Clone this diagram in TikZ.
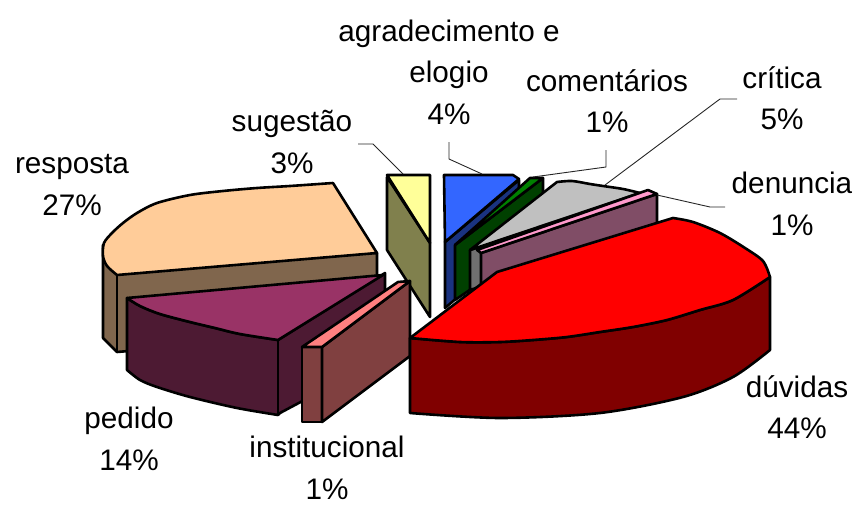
\documentclass[tikz,border=0pt]{standalone}
\usepackage{fontspec}
\setmainfont{Liberation Sans}
\definecolor{peach}{HTML}{FFCC99}
\definecolor{peachD}{HTML}{80664D}
\definecolor{plum}{HTML}{993366}
\definecolor{plumD}{HTML}{4D1A33}
\definecolor{coral}{HTML}{FF8080}
\definecolor{coralD}{HTML}{804040}
\definecolor{lemon}{HTML}{FFFF99}
\definecolor{lemonD}{HTML}{80804D}
\definecolor{azure}{HTML}{3366FF}
\definecolor{azureD}{HTML}{1A3380}
\definecolor{leaf}{HTML}{008000}
\definecolor{leafD}{HTML}{004000}
\definecolor{silver}{HTML}{C0C0C0}
\definecolor{silverD}{HTML}{707070}
\definecolor{rose}{HTML}{FF99CC}
\definecolor{roseD}{HTML}{804D66}
\definecolor{scarlet}{HTML}{FF0000}
\definecolor{scarletD}{HTML}{800000}
\begin{document}
\begin{tikzpicture}[x=1pt,y=-1pt,
  face/.style={draw=black,line width=2.6pt,line join=round},
  lbl/.style={align=center,inner sep=0pt,font=\fontsize{29.7}{41.5}\selectfont},
  leader/.style={draw=black!85,line width=0.9pt}]
\useasboundingbox (0,0) rectangle (855,506);

% resposta
\draw[face,fill=peachD] (103,245) -- (103,338) -- (117,352) -- (377,330) -- (377,253) -- cycle;
\draw[face,fill=peach] plot[smooth] coordinates {(117,275) (107,266) (103,256) (104,243) (112,233) (123,223) (137,213) (157,203) (190,195) (223,191) (257,188) (290,186) (333,183)} -- (377,253) -- cycle;
\draw[face] (117,275) -- (117,352);

% sugestao
\draw[face,fill=lemonD] (387,177) -- (430,243) -- (430,317) -- (387,250) -- cycle;
\draw[face,fill=lemon] (387,175) -- (430,175) -- (430,243) -- cycle;

% agradecimento e elogio
\draw[face,fill=azureD] (445,242) -- (519,180) -- (519,245) -- (445,308) -- cycle;
\draw[face,fill=azure] (444,175) -- (513,175) -- (519,179) -- (445,242) -- cycle;

% comentarios
\draw[face,fill=leafD] (455,245) -- (543,178) -- (543,240) -- (455,300) -- cycle;
\draw[face,fill=leaf] (455,245) -- (530,178) -- (543,178) -- cycle;

% critica
\draw[face,fill=silverD] (470,250) -- (640,193) -- (640,235) -- (470,290) -- cycle;
\draw[face,fill=silver] (470,250) -- (557,182) -- plot[smooth] coordinates {(557,182) (572,181) (590,184) (603,186) (623,189) (640,193)} -- cycle;

% denuncia
\draw[face,fill=roseD] (481,253) -- (657,194) -- (657,262) -- (481,300) -- cycle;
\draw[face,fill=rose] (477,250) -- (648,190) -- (657,194) -- (481,253) -- cycle;

% pedido
\draw[face,fill=plumD] plot[smooth] coordinates {(127,298) (140,306) (160,314) (190,322) (215,328) (240,334) (278,340)} -- (385,273) -- (385,357) -- (280,413) -- plot[smooth] coordinates {(278,415) (237,408) (190,397) (157,387) (140,380) (127,370)} -- cycle;
\draw[face,fill=plum] plot[smooth] coordinates {(127,298) (140,306) (160,314) (190,322) (215,328) (240,334) (278,340)} -- (383,275) -- cycle;
\draw[face] (278,340) -- (278,415);

% institucional
\draw[face,fill=coralD] (302,347) -- (322,347) -- (322,422) -- (302,422) -- cycle;
\draw[face,fill=coralD] (322,347) -- (410,281) -- (410,356) -- (322,422) -- cycle;
\draw[face,fill=coral] (302,347) -- (322,347) -- (410,281) -- (398,282) -- cycle;

% duvidas
\draw[face,fill=scarletD] plot[smooth] coordinates {(410,338) (460,342) (500,342) (533,340) (567,337) (600,332) (633,327) (667,320) (700,310) (733,300) (770,277)} -- (770,350) -- plot[smooth] coordinates {(770,350) (733,377) (683,397) (600,413) (500,418) (410,413)} -- cycle;
\draw[face,fill=scarlet] (410,338) -- (497,272) -- (673,218) -- plot[smooth] coordinates {(673,218) (693,222) (720,233) (745,248) (763,261) (770,277)} -- plot[smooth] coordinates {(770,277) (733,300) (700,310) (667,320) (633,327) (600,332) (567,337) (533,340) (500,342) (460,342) (410,338)} -- cycle;

% labels
\node[lbl] (Lagr) at (449,72) {agradecimento e\\elogio\\4\%};
\node[lbl] (Lcom) at (607,101) {comentários\\1\%};
\node[lbl] (Lcri) at (782,98) {crítica\\5\%};
\node[lbl] (Lden) at (792,204) {denuncia\\1\%};
\node[lbl] (Lduv) at (797,407) {dúvidas\\44\%};
\node[lbl] (Lped) at (129,439) {pedido\\14\%};
\node[lbl] (Lins) at (327,468) {institucional\\1\%};
\node[lbl] (Lsug) at (292,142) {sugestão\\3\%};
\node[lbl] (Lres) at (72,185) {resposta\\27\%};

% leader lines
\coordinate (s1) at (358,144); \coordinate (s2) at (373,144); \coordinate (s3) at (403,174);
\coordinate (a1) at (449,142); \coordinate (a2) at (449,159); \coordinate (a3) at (482,174);
\coordinate (c1) at (606,150); \coordinate (c2) at (606,167); \coordinate (c3) at (533,177);
\coordinate (k1) at (737,99); \coordinate (k2) at (720,99); \coordinate (k3) at (605,185);
\coordinate (d1) at (725,207); \coordinate (d2) at (710,207); \coordinate (d3) at (657,195);
\draw[leader] (s1) -- (s2) -- (s3);
\draw[leader] (a1) -- (a2) -- (a3);
\draw[leader] (c1) -- (c2) -- (c3);
\draw[leader] (k1) -- (k2) -- (k3);
\draw[leader] (d1) -- (d2) -- (d3);
\end{tikzpicture}
\end{document}
